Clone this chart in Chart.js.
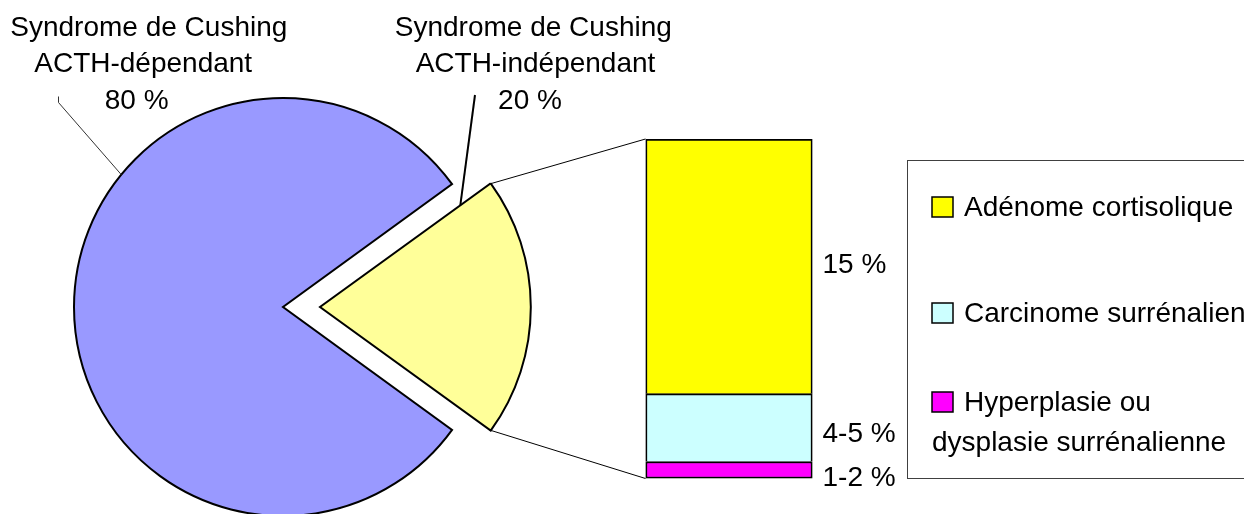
<!DOCTYPE html>
<html>
<head>
<meta charset="utf-8">
<script src="https://cdn.jsdelivr.net/npm/chart.js@4/dist/chart.umd.min.js"></script>
<style>
  html, body { margin: 0; padding: 0; background: #ffffff; overflow: hidden; }
  #wrap { position: relative; width: 1244px; height: 514px; }
  #wrap canvas { position: absolute; left: 0; top: 0; }
</style>
</head>
<body>
<div id="wrap">
  <canvas id="pie" width="1244" height="514"></canvas>
  <canvas id="bar" width="1244" height="514"></canvas>
</div>
<script>
// Main split of Cushing's syndrome
const mainLabels = [
  ['Syndrome de Cushing', 'ACTH-dépendant', '80 %'],
  ['Syndrome de Cushing', 'ACTH-indépendant', '20 %']
];
const mainValues = [80, 20];
const mainColors = ['#9999FF', '#FFFF99'];

// Breakdown of the ACTH-independant share
const subLegend = [
  ['Adénome cortisolique'],
  ['Carcinome surrénalien'],
  ['Hyperplasie ou', 'dysplasie surrénalienne']
];
const subValues = [15, 4, 1];
const subValueLabels = ['15 %', '4-5 %', '1-2 %'];
const subColors = ['#FFFF00', '#CCFFFF', '#FF00FF'];

const FONT = '28px "Liberation Sans", Arial, Helvetica, sans-serif';

const pieChart = new Chart(document.getElementById('pie'), {
  type: 'pie',
  data: {
    labels: mainLabels.map(l => l.slice(0, 2).join(' ')),
    datasets: [{
      data: mainValues,
      backgroundColor: mainColors,
      borderColor: '#000000',
      borderWidth: 2,
      borderJoinStyle: 'miter',
      offset: [0, 148]
    }]
  },
  options: {
    responsive: false,
    animation: false,
    events: [],
    rotation: 126,
    radius: 209,
    layout: { padding: { left: 83, right: 761, top: 107, bottom: 7 } },
    plugins: { legend: { display: false }, tooltip: { enabled: false } }
  }
});

// arc geometry helpers (same translation the arc element applies for its offset)
function arcShift(arc) {
  const o = (arc.options.offset || 0) / 4;
  const mid = (arc.startAngle + arc.endAngle) / 2;
  return { x: arc.x + Math.cos(mid) * o, y: arc.y + Math.sin(mid) * o };
}
function arcPoint(arc, angle, r) {
  const c = arcShift(arc);
  return { x: c.x + Math.cos(angle) * r, y: c.y + Math.sin(angle) * r };
}

const overlay = {
  id: 'overlay',
  afterDraw(chart) {
    const ctx = chart.ctx;
    const arcs = pieChart.getDatasetMeta(0).data;
    const big = arcs[0], small = arcs[1];
    const n = subValues.length;
    const barEl = i => chart.getDatasetMeta(n - 1 - i).data[0];

    ctx.save();
    // connector lines from the detached slice to the stacked bar
    const topEl = barEl(0), botEl = barEl(n - 1);
    const barLeft = topEl.x - topEl.width / 2;
    const barRight = topEl.x + topEl.width / 2;
    const pTop = arcPoint(small, small.startAngle, small.outerRadius);
    const pBot = arcPoint(small, small.endAngle, small.outerRadius);
    ctx.strokeStyle = '#000000';
    ctx.lineWidth = 1;
    ctx.beginPath();
    ctx.moveTo(pTop.x, pTop.y); ctx.lineTo(barLeft, topEl.y);
    ctx.moveTo(pBot.x, pBot.y); ctx.lineTo(barLeft, botEl.base);
    ctx.stroke();

    // value labels beside the bar segments
    ctx.font = FONT;
    ctx.fillStyle = '#000000';
    ctx.textAlign = 'left';
    ctx.textBaseline = 'alphabetic';
    const shift = [-3, 4, 6];
    subValueLabels.forEach((t, i) => {
      const el = barEl(i);
      const cy = (el.y + el.base) / 2;
      ctx.fillText(t, barRight + 10, cy + 10 + shift[i]);
    });

    // legend box
    ctx.strokeStyle = '#404040';
    ctx.lineWidth = 1;
    ctx.strokeRect(907.5, 160.5, 400, 318);
    const baselines = [216, 322, 411];
    subLegend.forEach((lines, i) => {
      const bl = baselines[i];
      ctx.fillStyle = subColors[i];
      ctx.fillRect(932, bl - 19, 21, 20);
      ctx.strokeStyle = '#000000';
      ctx.lineWidth = 1.5;
      ctx.strokeRect(932, bl - 19, 21, 20);
      ctx.fillStyle = '#000000';
      ctx.fillText(lines[0], 964, bl);
      for (let k = 1; k < lines.length; k++) {
        ctx.fillText(lines[k], 932, bl + 40 * k);
      }
    });

    // slice titles
    ctx.textAlign = 'center';
    const titleBase = [35.5, 72, 108.5];
    const centers = [[148.8, 143.2, 136.7], [533.3, 535.5, 530]];
    mainLabels.forEach((lines, s) => {
      lines.forEach((t, k) => ctx.fillText(t, centers[s][k], titleBase[k]));
    });

    // leader lines
    ctx.strokeStyle = '#333333';
    ctx.lineWidth = 1;
    const a = arcPoint(big, 219.3 * Math.PI / 180, big.outerRadius);
    ctx.beginPath();
    ctx.moveTo(58.5, 96.5); ctx.lineTo(58.5, 102.5); ctx.lineTo(a.x, a.y);
    ctx.stroke();

    const c = arcShift(small);
    const e = { x: c.x + 0.83 * (pTop.x - c.x), y: c.y + 0.83 * (pTop.y - c.y) };
    ctx.strokeStyle = '#000000';
    ctx.lineWidth = 2;
    ctx.beginPath();
    ctx.moveTo(475, 95); ctx.lineTo(e.x, e.y);
    ctx.stroke();
    ctx.restore();
  }
};

new Chart(document.getElementById('bar'), {
  type: 'bar',
  data: {
    labels: [''],
    datasets: subValues.map((v, i) => ({
      label: subLegend[i].join(' '),
      data: [v],
      backgroundColor: subColors[i],
      borderColor: '#000000',
      borderWidth: 2,
      borderSkipped: i === subValues.length - 1 ? false : 'start',
      barPercentage: 1,
      categoryPercentage: 1
    })).reverse()
  },
  options: {
    responsive: false,
    animation: false,
    events: [],
    layout: { padding: { left: 645.5, right: 431.5, top: 139, bottom: 35.5 } },
    scales: {
      x: { display: false, stacked: true },
      y: { display: false, stacked: true, min: 0, max: 20 }
    },
    plugins: { legend: { display: false }, tooltip: { enabled: false } }
  },
  plugins: [overlay]
});
</script>
</body>
</html>
